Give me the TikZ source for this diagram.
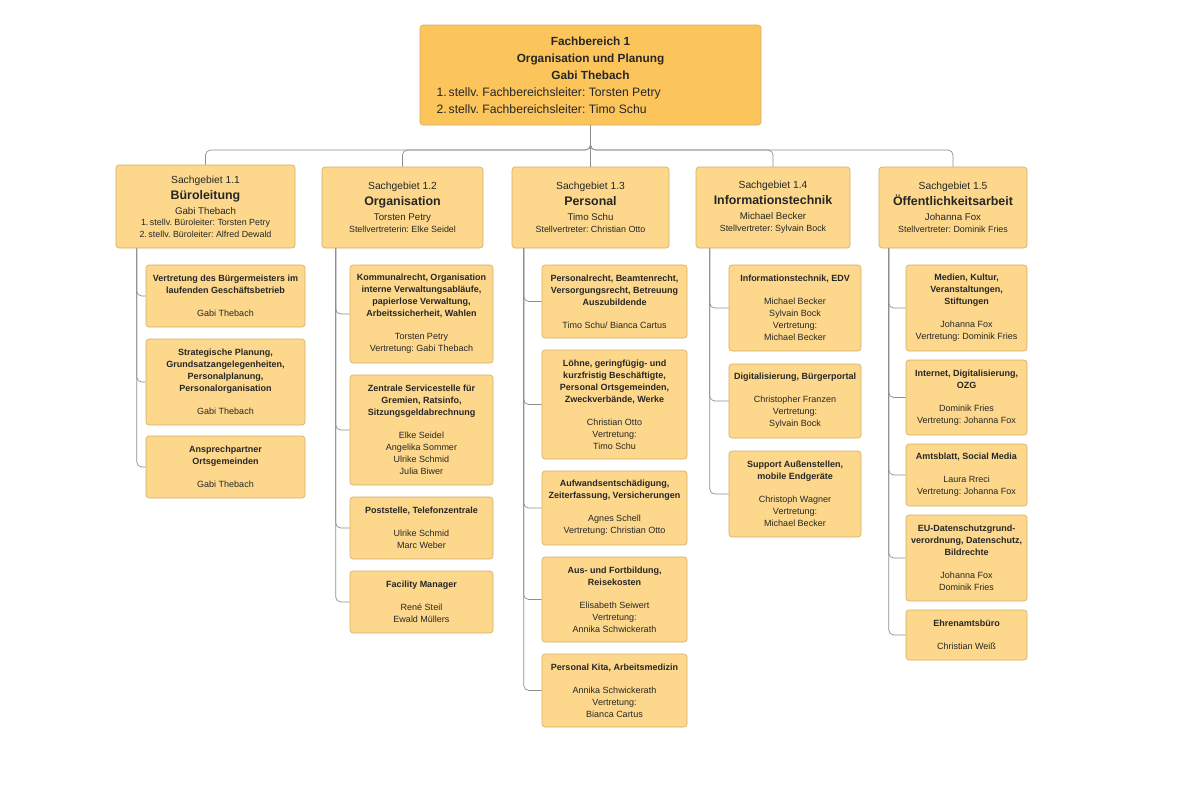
\documentclass[tikz,border=0pt]{standalone}
\usepackage{fontspec}
\setmainfont{Liberation Sans}
\usetikzlibrary{calc}
\frenchspacing
\definecolor{topfill}{HTML}{FCC55C}
\definecolor{boxfill}{HTML}{FDD88C}
\definecolor{boxline}{HTML}{D2AE66}
\definecolor{txt}{HTML}{262626}
\definecolor{conncol}{HTML}{8E8E8E}
\newcommand\btxt[1]{\textbf{#1}}
\newcommand\sglab[1]{{\fontsize{10.3}{13}\selectfont #1}}
\newcommand\sgtit[1]{{\fontsize{12.4}{13}\selectfont\bfseries #1}}
\newcommand\sgnam[1]{{\fontsize{9.7}{13}\selectfont #1}}
\newcommand\sgdep[1]{{\fontsize{8.9}{13}\selectfont #1}}
\tikzset{
  base/.style={draw=boxline, line width=0.6pt, rounded corners=3pt, inner sep=0pt, align=center, text=txt},
  sz/.style 2 args={minimum width=#1pt, minimum height=#2pt},
  topbox/.style={base, fill=topfill, font=\fontsize{11.8}{17}\selectfont},
  headbox/.style={base, fill=boxfill, font=\fontsize{9}{13}\selectfont},
  leaf/.style={base, fill=boxfill, font=\fontsize{9}{12}\selectfont},
  conn/.style={draw=conncol, line width=0.7pt, rounded corners=5pt},
}
\begin{document}
\begin{tikzpicture}[x=1pt,y=-1pt]
\useasboundingbox (0,0) rectangle (1180,796);
\fill[white] (0,0) rectangle (1180,796);

% top
\node[topbox, sz={341}{100}] (top) at (590.5,75) {%
\btxt{Fachbereich 1}\\\btxt{Organisation und Planung}\\\btxt{Gabi Thebach}\\
\makebox[308pt][l]{\fontsize{12.2}{17}\selectfont 1.\,stellv. Fachbereichsleiter: Torsten Petry}\\
\makebox[308pt][l]{\fontsize{12.2}{17}\selectfont 2.\,stellv. Fachbereichsleiter: Timo Schu}};

% headers
\node[headbox, sz={179}{83}] (h1) at (205.5,206.5) {\sglab{Sachgebiet 1.1}\\[3pt]\sgtit{Büroleitung}\\[2pt]\sgnam{Gabi Thebach}\\[-2pt]\sgdep{1.\,stellv. Büroleiter: Torsten Petry}\\[-1pt]\sgdep{2.\,stellv. Büroleiter: Alfred Dewald}};
\node[headbox, sz={161}{81}] (h2) at (402.5,207.5) {\sglab{Sachgebiet 1.2}\\[3pt]\sgtit{Organisation}\\[2pt]\sgnam{Torsten Petry}\\[-1pt]\sgdep{Stellvertreterin: Elke Seidel}};
\node[headbox, sz={157}{81}] (h3) at (590.5,207.5) {\sglab{Sachgebiet 1.3}\\[3pt]\sgtit{Personal}\\[2pt]\sgnam{Timo Schu}\\[-1pt]\sgdep{Stellvertreter: Christian Otto}};
\node[headbox, sz={154}{81}] (h4) at (773,207.5) {\sglab{Sachgebiet 1.4}\\[3pt]\sgtit{Informationstechnik}\\[2pt]\sgnam{Michael Becker}\\[-1pt]\sgdep{Stellvertreter: Sylvain Bock}};
\node[headbox, sz={148}{81}] (h5) at (953,207.5) {\sglab{Sachgebiet 1.5}\\[3pt]\sgtit{Öffentlichkeitsarbeit}\\[2pt]\sgnam{Johanna Fox}\\[-1pt]\sgdep{Stellvertreter: Dominik Fries}};

% column 1
\node[leaf, sz={159}{62}] (c1a) at (225.5,296) {\btxt{Vertretung des Bürgermeisters im}\\\btxt{laufenden Geschäftsbetrieb}\\[11pt]Gabi Thebach};
\node[leaf, sz={159}{86}] (c1b) at (225.5,382) {\btxt{Strategische Planung,}\\\btxt{Grundsatzangelegenheiten,}\\\btxt{Personalplanung,}\\\btxt{Personalorganisation}\\[11pt]Gabi Thebach};
\node[leaf, sz={159}{62}] (c1c) at (225.5,467) {\btxt{Ansprechpartner}\\\btxt{Ortsgemeinden}\\[11pt]Gabi Thebach};

% column 2
\node[leaf, sz={143}{98}] (c2a) at (421.5,314) {\btxt{Kommunalrecht, Organisation}\\\btxt{interne Verwaltungsabläufe,}\\\btxt{papierlose Verwaltung,}\\\btxt{Arbeitssicherheit, Wahlen}\\[11pt]Torsten Petry\\Vertretung: Gabi Thebach};
\node[leaf, sz={143}{110}] (c2b) at (421.5,430) {\btxt{Zentrale Servicestelle für}\\\btxt{Gremien, Ratsinfo,}\\\btxt{Sitzungsgeldabrechnung}\\[11pt]Elke Seidel\\Angelika Sommer\\Ulrike Schmid\\Julia Biwer};
\node[leaf, sz={143}{62}] (c2c) at (421.5,528) {\btxt{Poststelle, Telefonzentrale}\\[11pt]Ulrike Schmid\\Marc Weber};
\node[leaf, sz={143}{62}] (c2d) at (421.5,602) {\btxt{Facility Manager}\\[11pt]René Steil\\Ewald Müllers};

% column 3
\node[leaf, sz={145}{73}] (c3a) at (614.5,301.5) {\btxt{Personalrecht, Beamtenrecht,}\\\btxt{Versorgungsrecht, Betreuung}\\\btxt{Auszubildende}\\[11pt]Timo Schu/ Bianca Cartus};
\node[leaf, sz={145}{109}] (c3b) at (614.5,404.5) {\btxt{Löhne, geringfügig- und}\\\btxt{kurzfristig Beschäftigte,}\\\btxt{Personal Ortsgemeinden,}\\\btxt{Zweckverbände, Werke}\\[11pt]Christian Otto\\Vertretung:\\Timo Schu};
\node[leaf, sz={145}{74}] (c3c) at (614.5,508) {\btxt{Aufwandsentschädigung,}\\\btxt{Zeiterfassung, Versicherungen}\\[11pt]Agnes Schell\\Vertretung: Christian Otto};
\node[leaf, sz={145}{85}] (c3d) at (614.5,599.5) {\btxt{Aus- und Fortbildung,}\\\btxt{Reisekosten}\\[11pt]Elisabeth Seiwert\\Vertretung:\\Annika Schwickerath};
\node[leaf, sz={145}{73}] (c3e) at (614.5,690.5) {\btxt{Personal Kita, Arbeitsmedizin}\\[11pt]Annika Schwickerath\\Vertretung:\\Bianca Cartus};

% column 4
\node[leaf, sz={132}{86}] (c4a) at (795,308) {\btxt{Informationstechnik, EDV}\\[11pt]Michael Becker\\Sylvain Bock\\Vertretung:\\Michael Becker};
\node[leaf, sz={132}{74}] (c4b) at (795,401) {\btxt{Digitalisierung, Bürgerportal}\\[11pt]Christopher Franzen\\Vertretung:\\Sylvain Bock};
\node[leaf, sz={132}{86}] (c4c) at (795,494) {\btxt{Support Außenstellen,}\\\btxt{mobile Endgeräte}\\[11pt]Christoph Wagner\\Vertretung:\\Michael Becker};

% column 5
\node[leaf, sz={121}{86}] (c5a) at (966.5,308) {\btxt{Medien, Kultur,}\\\btxt{Veranstaltungen,}\\\btxt{Stiftungen}\\[11pt]Johanna Fox\\Vertretung: Dominik Fries};
\node[leaf, sz={121}{75}] (c5b) at (966.5,397.5) {\btxt{Internet, Digitalisierung,}\\\btxt{OZG}\\[11pt]Dominik Fries\\Vertretung: Johanna Fox};
\node[leaf, sz={121}{62}] (c5c) at (966.5,475) {\btxt{Amtsblatt, Social Media}\\[11pt]Laura Rreci\\Vertretung: Johanna Fox};
\node[leaf, sz={121}{86}] (c5d) at (966.5,558) {\btxt{EU-Datenschutzgrund-}\\\btxt{verordnung, Datenschutz,}\\\btxt{Bildrechte}\\[11pt]Johanna Fox\\Dominik Fries};
\node[leaf, sz={121}{50}] (c5e) at (966.5,635) {\btxt{Ehrenamtsbüro}\\[11pt]Christian Weiß};

% connectors: top to headers
\coordinate (bus) at (590.5,150);
\foreach \h in {h1,h2,h4,h5} {
  \draw[conn] (top.south) -- (bus) -- (bus -| \h.north) -- (\h.north);
}
\draw[conn] (top.south) -- (h3.north);

% trunks
\foreach \c in {c1a,c1b,c1c} \draw[conn] ([xshift=21pt]h1.south west) |- (\c.west);
\foreach \c in {c2a,c2b,c2c,c2d} \draw[conn] ([xshift=14pt]h2.south west) |- (\c.west);
\foreach \c in {c3a,c3b,c3c,c3d,c3e} \draw[conn] ([xshift=12pt]h3.south west) |- (\c.west);
\foreach \c in {c4a,c4b,c4c} \draw[conn] ([xshift=14pt]h4.south west) |- (\c.west);
\foreach \c in {c5a,c5b,c5c,c5d,c5e} \draw[conn] ([xshift=10pt]h5.south west) |- (\c.west);
\end{tikzpicture}
\end{document}
